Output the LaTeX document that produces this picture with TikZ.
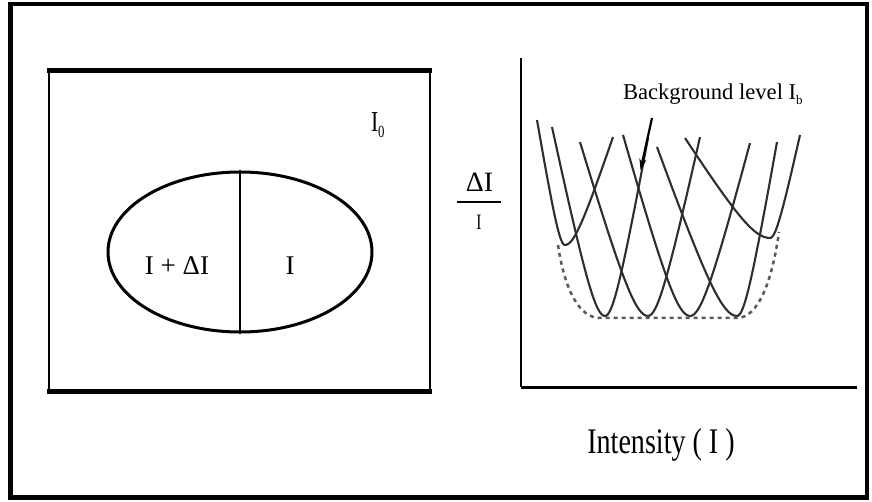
\documentclass[tikz,border=0pt]{standalone}
\usepackage{graphicx}
\usepackage{fontspec}
\setmainfont{Liberation Serif}
\usetikzlibrary{arrows.meta,shapes.geometric}
\newcommand{\vcurve}[6]{%
  \draw[curve] plot[domain=1:0,samples=30,variable=\t] ({#1+(#3-#1)*\t},{#2+(#4-#2)*(sqrt(\t*\t+0.09)-0.3)/0.744031})
   -- plot[domain=0:1,samples=30,variable=\t] ({#1+(#5-#1)*\t},{#2+(#6-#2)*(sqrt(\t*\t+0.09)-0.3)/0.744031});}
\begin{document}
\begin{tikzpicture}[x=1pt,y=-1pt,
  curve/.style={draw=black!82, line width=2.1pt},
  env/.style={draw=black!65, line width=2.5pt, dash pattern=on 4pt off 4pt},
  lbl/.style={inner sep=0pt, outer sep=0pt, text=black}]
\useasboundingbox (0,0) rectangle (872,502);
\fill[white] (0,0) rectangle (872,502);
% outer frame
\node[draw, line width=4.5pt, minimum width=856.5pt, minimum height=493.5pt, inner sep=0pt] (frame) at (438.75,250.75) {};
% left box
\node[draw, line width=2pt, minimum width=381pt, minimum height=318.5pt, inner sep=0pt] (box) at (239.5,230.75) {};
\draw[line width=5pt] ([xshift=-1pt]box.north west) -- ([xshift=1pt]box.north east);
\draw[line width=5pt] ([xshift=-1pt]box.south west) -- ([xshift=1pt]box.south east);
% ellipse
\node[ellipse, draw, line width=3pt, minimum width=264pt, minimum height=160pt, inner sep=0pt] (ell) at (240,252) {};
\draw[line width=2pt] (ell.north) -- (ell.south);
\node[lbl, anchor=base, font=\fontsize{27}{28}\selectfont] (ipd) at (177,275) {I + ΔI};
\node[lbl, anchor=base, font=\fontsize{27}{28}\selectfont] (ir) at (290,275) {I};
\node[lbl, anchor=base west, font=\fontsize{29}{30}\selectfont] (i0) at (371,132) {\scalebox{0.75}[1]{I\raisebox{-0.2em}{\fontsize{17}{17}\selectfont 0}}};
% fraction
\node[lbl, anchor=base, font=\fontsize{28}{29}\selectfont] (dnum) at (479.5,192) {ΔI};
\node[lbl, anchor=base, font=\fontsize{22}{23}\selectfont] (dden) at (479,230) {\scalebox{0.7}[1]{I}};
\coordinate (fl) at (457,202);
\coordinate (fr) at (501,202);
\draw[line width=2pt] (fl) -- (fr);
% axes
\coordinate (yt) at (521,58);
\coordinate (org) at (521,387);
\coordinate (xe) at (857,387);
\draw[line width=2pt] (yt) -- (org);
\draw[line width=3pt] (org) -- (xe);
\node[lbl, anchor=base, font=\fontsize{36}{37}\selectfont] (xl) at (661,453) {\scalebox{0.78}[1]{Intensity ( I )}};
% curves
\vcurve{565}{245}{537}{120}{613}{137}
\vcurve{605}{316}{552}{127}{648}{138}
\vcurve{648}{316}{580}{142}{700}{137}
\vcurve{690}{316}{623}{135}{750}{143}
\vcurve{737}{316}{657}{147}{777}{142}
\vcurve{770}{238}{685}{138}{800}{135}
% envelope
\draw[env] (558,245) .. controls (565,292) and (580,318) .. (600,318) -- (737,318) .. controls (758,318) and (772,282) .. (779,232);
% label and arrow
\node[lbl, anchor=base west, font=\fontsize{22.6}{24}\selectfont] (bg) at (623,100) {Background level I\raisebox{-0.22em}{\fontsize{13}{13}\selectfont b}};
\coordinate (as) at (652,118);
\coordinate (ae) at (640.5,170);
\draw[line width=2.2pt, -{Stealth[length=11pt,width=7pt]}] (as) -- (ae);
\end{tikzpicture}
\end{document}
